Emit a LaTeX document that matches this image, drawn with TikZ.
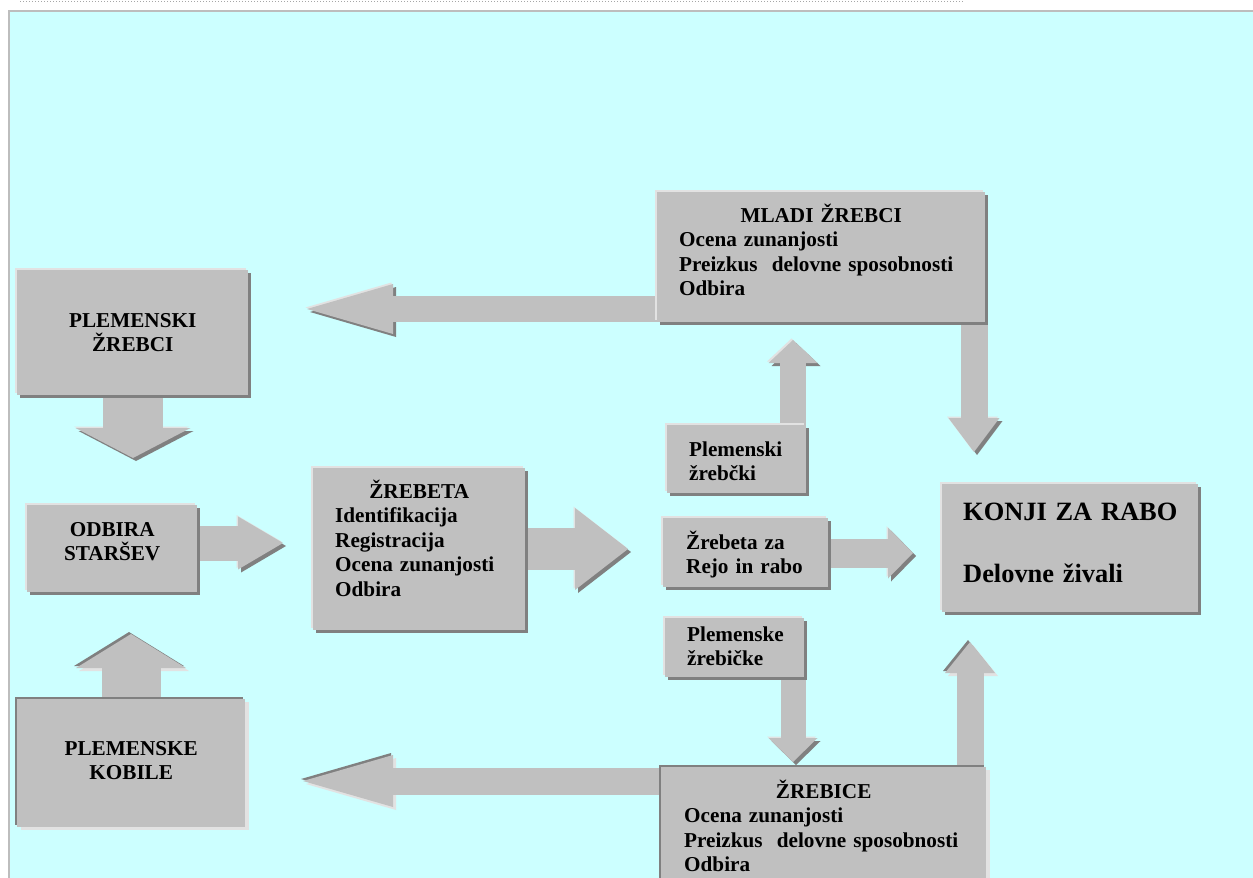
\documentclass[tikz,border=0pt]{standalone}
\usepackage{fontspec}
\setmainfont{Liberation Serif}
\usetikzlibrary{arrows.meta,backgrounds,calc}

\definecolor{bgcyan}{HTML}{CCFFFF}
\definecolor{boxgray}{HTML}{C0C0C0}
\definecolor{shadowdark}{HTML}{808080}
\definecolor{rimlight}{HTML}{E2E2E2}
\definecolor{framegray}{HTML}{BDBDBD}

\newcommand{\hdr}[1]{\makebox[\linewidth]{#1}}

\tikzset{
  raised/.style={fill=boxgray,
    preaction={fill=rimlight,transform canvas={shift={(-2pt,2pt)}}},
    preaction={fill=shadowdark,transform canvas={shift={(3pt,-3pt)}}}},
  sunken/.style={fill=boxgray,
    preaction={fill=rimlight,transform canvas={shift={(4pt,-3pt)}}},
    preaction={fill=shadowdark,transform canvas={shift={(-2pt,2pt)}}}},
  box/.style={inner sep=0pt,anchor=north west,
    font=\fontsize{21.2}{24.5}\selectfont\bfseries},
  arr up/.style={draw=boxgray,line width=#1,
    preaction={draw=rimlight,transform canvas={shift={(-1.5pt,1.5pt)}}},
    preaction={draw=shadowdark,transform canvas={shift={(3pt,-3pt)}}}},
  arr dn/.style={draw=boxgray,line width=#1,
    preaction={draw=rimlight,transform canvas={shift={(3pt,-3pt)}}},
    preaction={draw=shadowdark,transform canvas={shift={(-2pt,2pt)}}}},
  head/.style 2 args={arrows={-{Triangle[length=#1pt,width=#2pt,line width=0pt]}}}
}

\begin{document}
\begin{tikzpicture}[x=1pt,y=-1pt]
\useasboundingbox (0,0) rectangle (1253,878);

% boxes
\node[box,raised,text width=231pt,text height=57pt,text depth=68pt,align=center] (plemZrebci) at (17,270) {PLEMENSKI\\ŽREBCI};
\node[box,raised,text width=170pt,text height=31pt,text depth=56pt,align=center] (odbira) at (27,505) {ODBIRA\\STARŠEV};
\node[box,sunken,text width=228pt,text height=56pt,text depth=72pt,align=center] (kobile) at (17,699) {PLEMENSKE\\KOBILE};
\node[box,raised,text width=168pt,inner xsep=22pt,text height=30pt,text depth=132pt,align=left] (zrebeta) at (313,468)
  {\hdr{ŽREBETA}\\Identifikacija\\Registracija\\Ocena zunanjosti\\Odbira};
\node[box,raised,text width=284pt,inner xsep=22pt,text height=30pt,text depth=100pt,align=left] (mladi) at (657,192)
  {\hdr{MLADI ŽREBCI}\\Ocena zunanjosti\\Preizkus\ \ delovne sposobnosti\\Odbira};
\node[box,raised,text width=95pt,inner xsep=22pt,text height=31pt,text depth=37pt,align=left] (zrebcki) at (667,425) {Plemenski\\žrebčki};
\node[box,raised,text width=119pt,inner xsep=23pt,text height=31pt,text depth=38pt,align=left] (rejo) at (663,518) {Žrebeta za\\Rejo in rabo};
\node[box,raised,text width=95pt,inner xsep=22pt,text height=23pt,text depth=36pt,align=left] (zrebicke) at (665,618) {Plemenske\\žrebičke};
\node[box,sunken,text width=279pt,inner xsep=23pt,text height=31pt,text depth=99pt,align=left] (zrebice) at (661,767)
  {\hdr{ŽREBICE}\\Ocena zunanjosti\\Preizkus\ \ delovne sposobnosti\\Odbira};
\node[box,raised,text width=214pt,inner xsep=21pt,text height=36pt,text depth=92pt,align=left,
  font=\fontsize{26.4}{31}\selectfont\bfseries] (konji) at (942,484) {\mbox{KONJI ZA RABO}\\[31pt]Delovne živali};

\begin{scope}[on background layer]
\fill[white] (0,0) rectangle (1253,878);
\fill[bgcyan] (8,10) rectangle (1253,878);
\draw[framegray,line width=2pt] (9,878) -- (9,11) -- (1253,11);
\draw[gray!70,dotted,line width=1pt] (20,1.5) -- (964,1.5);

% block arrows
\coordinate (tipMladi) at (307,309);
\coordinate (tipPlem) at (133,458);
\coordinate (tipOdbira) at (283,543);
\coordinate (tipZrebeta) at (628,549);
\coordinate (tipZrebcki) at (793,340);
\coordinate (tipKonjiA) at (974,452);
\coordinate (tipRejo) at (913,553);
\coordinate (tipZrebicke) at (793,762);
\coordinate (tipKonjiB) at (970,642);
\coordinate (tipKobile) at (303,781);
\coordinate (tipOdbiraB) at (131,634);

\draw[arr up=26pt,head={86}{50}] (tipMladi -| mladi.west) -- (tipMladi);
\draw[arr up=60pt,head={30}{115}] (tipPlem |- plemZrebci.south) -- (tipPlem);
\draw[arr up=35pt,head={45}{53}] (tipOdbira -| odbira.east) -- (tipOdbira);
\draw[arr up=42pt,head={53}{82}] (tipZrebeta -| zrebeta.east) -- (tipZrebeta);
\draw[arr up=26pt,head={23}{49}] (tipZrebcki |- zrebcki.north) -- (tipZrebcki);
\draw[arr up=27pt,head={34}{51}] (tipKonjiA |- mladi.south) -- (tipKonjiA);
\draw[arr up=29pt,head={25}{51}] (tipRejo -| rejo.east) -- (tipRejo);
\draw[arr up=25pt,head={24}{49}] (tipZrebicke |- zrebicke.south) -- (tipZrebicke);
\draw[arr dn=27pt,head={31}{50}] (tipKonjiB |- zrebice.north) -- (tipKonjiB);
\draw[arr dn=27pt,head={90}{52}] (tipKobile -| zrebice.west) -- (tipKobile);
\draw[arr dn=59pt,head={34}{110}] (tipOdbiraB |- kobile.north) -- (tipOdbiraB);
\end{scope}
\end{tikzpicture}
\end{document}
